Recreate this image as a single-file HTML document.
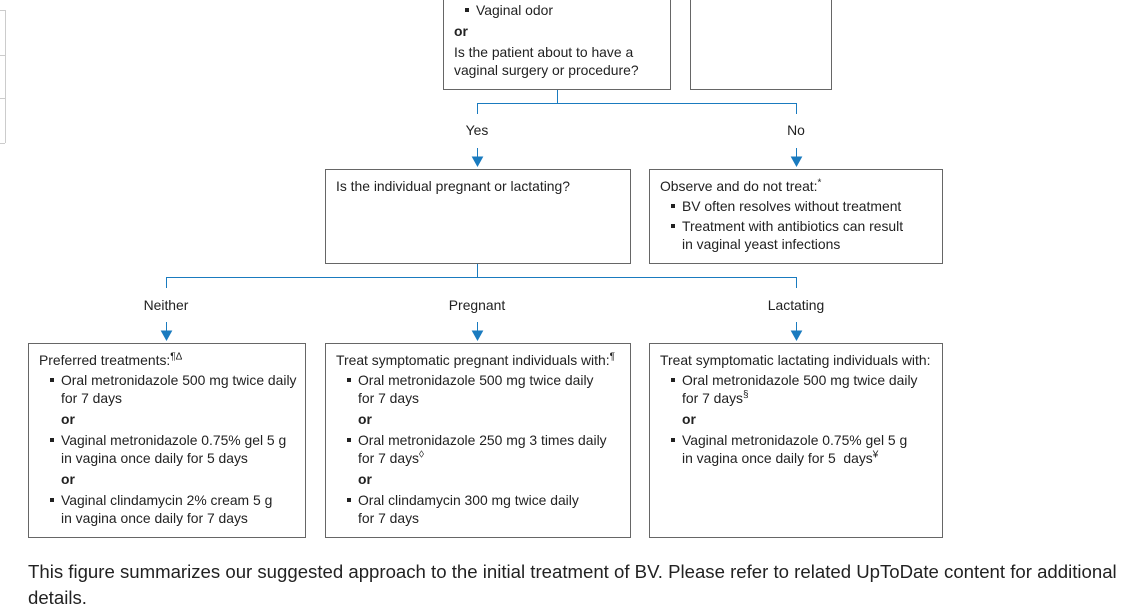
<!DOCTYPE html>
<html><head><meta charset="utf-8"><style>
body{margin:0;width:1148px;height:595px;overflow:hidden;background:#fff;position:relative;font-family:"Liberation Sans","DejaVu Sans",sans-serif;color:#222;}
.b{position:absolute;border:1px solid #666;box-sizing:border-box;background:#fff}
.t{position:absolute;font-size:13.9px;line-height:18px;white-space:nowrap;color:#222}
.l{position:absolute;background:#1a7bbf}
.g{position:absolute;background:#ccc}
.bu::before{content:"";position:absolute;left:-11px;top:7px;width:4px;height:4px;background:#222}
.c{text-align:center;width:100px}
sup{font-size:10px;line-height:0}
.o{font-weight:bold}
</style></head><body>
<div class="g" style="left:5px;top:10px;width:1px;height:133px"></div>
<div class="g" style="left:0;top:10px;width:5px;height:1px"></div>
<div class="g" style="left:0;top:55px;width:5px;height:1px"></div>
<div class="g" style="left:0;top:98px;width:5px;height:1px"></div>
<div class="g" style="left:0;top:143px;width:5px;height:1px"></div>

<div class="b" style="left:443px;top:-2px;width:228px;height:92px"></div>
<div class="b" style="left:690px;top:-2px;width:142px;height:92px"></div>
<div class="t bu" style="left:476px;top:1px">Vaginal odor</div>
<div class="t o" style="left:454px;top:22px">or</div>
<div class="t" style="left:454px;top:43px">Is the patient about to have a</div>
<div class="t" style="left:454px;top:61px">vaginal surgery or procedure?</div>

<div class="l" style="left:557px;top:90px;width:1px;height:13px"></div>
<div class="l" style="left:477px;top:103px;width:320px;height:1px"></div>
<div class="l" style="left:477px;top:103px;width:1px;height:11px"></div>
<div class="l" style="left:796px;top:103px;width:1px;height:11px"></div>
<div class="t c" style="left:427px;top:121px">Yes</div>
<div class="t c" style="left:746px;top:121px">No</div>
<svg style="position:absolute;left:0;top:0" width="1148" height="595">
<g stroke="#1a7bbf" stroke-width="1" fill="#1a7bbf">
<line x1="477.5" y1="148" x2="477.5" y2="158"/><polygon points="472.5,157 482.5,157 477.5,166"/>
<line x1="796.5" y1="148" x2="796.5" y2="158"/><polygon points="791.5,157 801.5,157 796.5,166"/>
<line x1="166.5" y1="322" x2="166.5" y2="332"/><polygon points="161.5,331 171.5,331 166.5,340"/>
<line x1="477.5" y1="322" x2="477.5" y2="332"/><polygon points="472.5,331 482.5,331 477.5,340"/>
<line x1="796.5" y1="322" x2="796.5" y2="332"/><polygon points="791.5,331 801.5,331 796.5,340"/>
</g></svg>

<div class="b" style="left:325px;top:169px;width:306px;height:95px"></div>
<div class="t" style="left:336px;top:177px">Is the individual pregnant or lactating?</div>
<div class="b" style="left:649px;top:169px;width:294px;height:95px"></div>
<div class="t" style="left:660px;top:177px">Observe and do not treat:<sup>*</sup></div>
<div class="t bu" style="left:682px;top:197px">BV often resolves without treatment</div>
<div class="t bu" style="left:682px;top:217px">Treatment with antibiotics can result</div>
<div class="t" style="left:682px;top:235px">in vaginal yeast infections</div>

<div class="l" style="left:477px;top:264px;width:1px;height:13px"></div>
<div class="l" style="left:166px;top:277px;width:631px;height:1px"></div>
<div class="l" style="left:166px;top:277px;width:1px;height:11px"></div>
<div class="l" style="left:796px;top:277px;width:1px;height:11px"></div>
<div class="t c" style="left:116px;top:296px">Neither</div>
<div class="t c" style="left:427px;top:296px">Pregnant</div>
<div class="t c" style="left:746px;top:296px">Lactating</div>

<div class="b" style="left:28px;top:343px;width:278px;height:195px"></div>
<div class="t" style="left:39px;top:351px">Preferred treatments:<sup>¶Δ</sup></div>
<div class="t bu" style="left:61px;top:371px">Oral metronidazole 500 mg twice daily</div>
<div class="t" style="left:61px;top:389px">for 7 days</div>
<div class="t o" style="left:61px;top:410px">or</div>
<div class="t bu" style="left:61px;top:431px">Vaginal metronidazole 0.75% gel 5 g</div>
<div class="t" style="left:61px;top:449px">in vagina once daily for 5 days</div>
<div class="t o" style="left:61px;top:470px">or</div>
<div class="t bu" style="left:61px;top:491px">Vaginal clindamycin 2% cream 5 g</div>
<div class="t" style="left:61px;top:509px">in vagina once daily for 7 days</div>

<div class="b" style="left:325px;top:343px;width:306px;height:195px"></div>
<div class="t" style="left:336px;top:351px">Treat symptomatic pregnant individuals with:<sup>¶</sup></div>
<div class="t bu" style="left:358px;top:371px">Oral metronidazole 500 mg twice daily</div>
<div class="t" style="left:358px;top:389px">for 7 days</div>
<div class="t o" style="left:358px;top:410px">or</div>
<div class="t bu" style="left:358px;top:431px">Oral metronidazole 250 mg 3 times daily</div>
<div class="t" style="left:358px;top:449px">for 7 days<sup>◊</sup></div>
<div class="t o" style="left:358px;top:470px">or</div>
<div class="t bu" style="left:358px;top:491px">Oral clindamycin 300 mg twice daily</div>
<div class="t" style="left:358px;top:509px">for 7 days</div>

<div class="b" style="left:649px;top:343px;width:294px;height:195px"></div>
<div class="t" style="left:660px;top:351px">Treat symptomatic lactating individuals with:</div>
<div class="t bu" style="left:682px;top:371px">Oral metronidazole 500 mg twice daily</div>
<div class="t" style="left:682px;top:389px">for 7 days<sup>§</sup></div>
<div class="t o" style="left:682px;top:410px">or</div>
<div class="t bu" style="left:682px;top:431px">Vaginal metronidazole 0.75% gel 5 g</div>
<div class="t" style="left:682px;top:449px">in vagina once daily for 5&nbsp; days<sup>¥</sup></div>

<div style="position:absolute;left:28px;top:559px;font-size:18.6px;line-height:26px;color:#222;width:1110px">This figure summarizes our suggested approach to the initial treatment of BV. Please refer to related UpToDate content for additional details.</div>
</body></html>
